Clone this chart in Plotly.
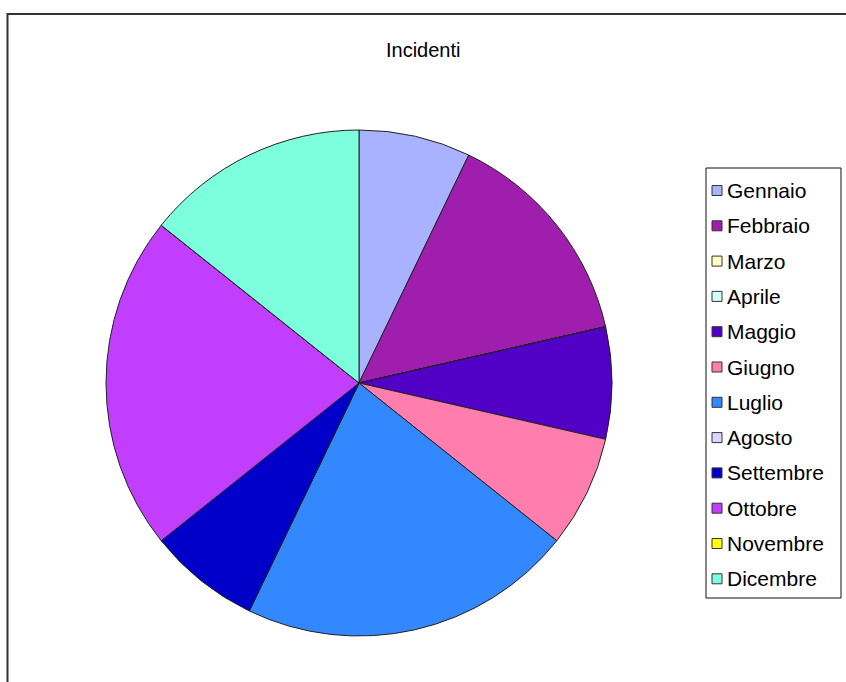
import plotly.graph_objects as go

labels = ["Gennaio", "Febbraio", "Marzo", "Aprile", "Maggio", "Giugno",
          "Luglio", "Agosto", "Settembre", "Ottobre", "Novembre", "Dicembre"]
values = [1, 2, 0, 0, 1, 1, 3, 0, 1, 3, 0, 2]
colors = ["#A9B2FF", "#A01EAE", "#FFFFC4", "#D2FFF6", "#5200C6", "#FF7EAE",
          "#3388FF", "#D8D8FF", "#0000C8", "#C23EFF", "#FFFF00", "#7DFFDD"]
title = "Incidenti"

W, H = 846, 682
FONT = "Arial, Liberation Sans, sans-serif"

def px(x):
    return x / W

def py(y):
    return 1 - y / H

cx, cy, r = 359, 383, 253

fig = go.Figure(go.Pie(
    labels=labels,
    values=values,
    sort=False,
    direction="clockwise",
    rotation=0,
    textinfo="none",
    hoverinfo="label+value",
    marker=dict(colors=colors, line=dict(color="#222222", width=1)),
    domain=dict(x=[px(cx - r), px(cx + r)], y=[py(cy + r), py(cy - r)]),
    showlegend=False,
))

shapes = []
annotations = []

# outer chart border (top and left visible)
shapes.append(dict(type="path", xref="paper", yref="paper",
                   path=f"M {px(W+5)},{py(14)} L {px(7.5)},{py(14)} L {px(7.5)},{py(H+5)}",
                   line=dict(color="#333333", width=2)))

# legend box
lx0, ly0, lx1, ly1 = 706, 168, 841, 598
shapes.append(dict(type="rect", xref="paper", yref="paper",
                   x0=px(lx0), x1=px(lx1), y0=py(ly1), y1=py(ly0),
                   line=dict(color="#111111", width=1), fillcolor="white"))

row0, step = 190.5, 35.3
for i, (lab, col) in enumerate(zip(labels, colors)):
    yc = row0 + i * step
    shapes.append(dict(type="rect", xref="paper", yref="paper",
                       x0=px(712), x1=px(722), y0=py(yc + 5), y1=py(yc - 5),
                       line=dict(color="#333333", width=1), fillcolor=col))
    annotations.append(dict(text=lab, xref="paper", yref="paper",
                            x=px(725), y=py(yc), xanchor="left", yanchor="middle",
                            showarrow=False, font=dict(family=FONT, size=21, color="black")))

annotations.append(dict(text=title, xref="paper", yref="paper",
                        x=px(424), y=py(50), xanchor="center", yanchor="middle",
                        showarrow=False, font=dict(family=FONT, size=20, color="black")))

fig.update_layout(
    width=W, height=H,
    margin=dict(l=0, r=0, t=0, b=0),
    paper_bgcolor="white", plot_bgcolor="white",
    shapes=shapes, annotations=annotations,
    showlegend=False,
)

fig.write_html("out.html")
